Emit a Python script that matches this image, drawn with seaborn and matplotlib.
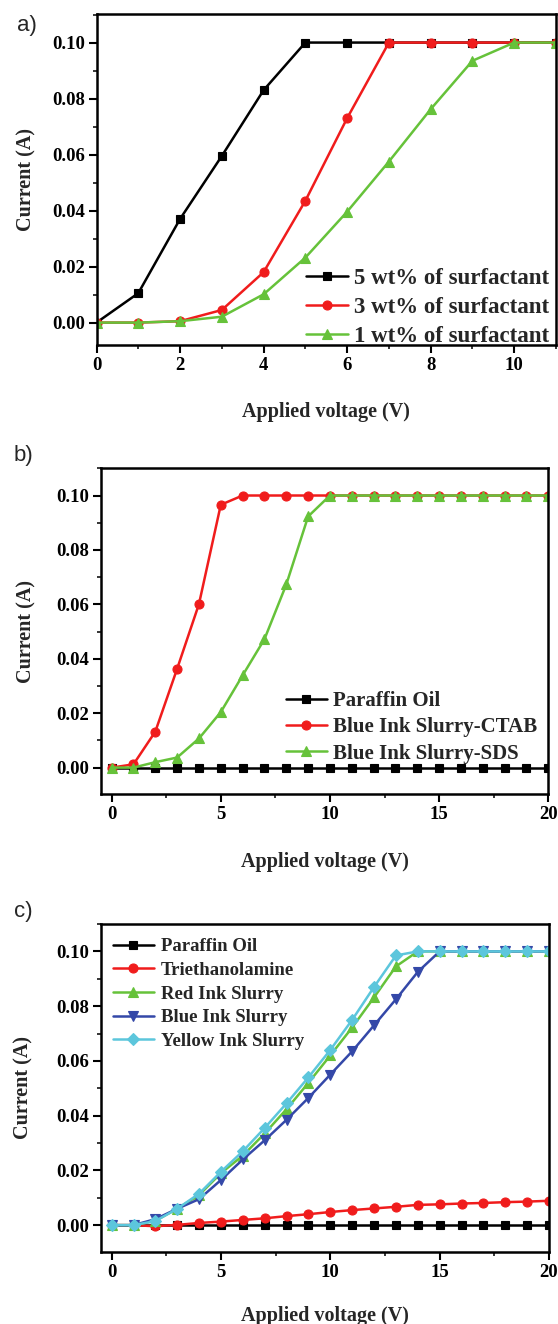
import matplotlib
matplotlib.use("Agg")
import matplotlib.pyplot as plt
from matplotlib.ticker import MultipleLocator, FormatStrFormatter
import seaborn as sns
import pandas as pd

# ---------------- data ----------------
# panel a
a_voltage = [0, 1, 2, 3, 4, 5, 6, 7, 8, 9, 10, 11]
a_5wt = [0.0, 0.0105, 0.037, 0.0595, 0.083, 0.100, 0.100, 0.100, 0.100, 0.100, 0.100, 0.100]
a_3wt = [0.0, 0.0, 0.0005, 0.0045, 0.018, 0.0435, 0.073, 0.100, 0.100, 0.100, 0.100, 0.100]
a_1wt = [0.0, 0.0, 0.0005, 0.0021, 0.0101, 0.0232, 0.0396, 0.0575, 0.0762, 0.0935, 0.100, 0.100]
a_labels = ["5 wt% of surfactant", "3 wt% of surfactant", "1 wt% of surfactant"]

# panel b
b_voltage = [0, 1, 2, 3, 4, 5, 6, 7, 8, 9, 10, 11, 12, 13, 14, 15, 16, 17, 18, 19, 20]
b_paraffin = [0.0, 0.0, 0.0, 0.0, 0.0, 0.0, 0.0, 0.0, 0.0, 0.0, 0.0,
              0.0, 0.0, 0.0, 0.0, 0.0, 0.0, 0.0, 0.0, 0.0, 0.0]
b_ctab = [0.0, 0.0012, 0.0132, 0.0363, 0.0601, 0.0966, 0.100, 0.100, 0.100, 0.100, 0.100,
          0.100, 0.100, 0.100, 0.100, 0.100, 0.100, 0.100, 0.100, 0.100, 0.100]
b_sds = [0.0, 0.0, 0.002, 0.0037, 0.0107, 0.0204, 0.0339, 0.0472, 0.0673, 0.0923, 0.100,
         0.100, 0.100, 0.100, 0.100, 0.100, 0.100, 0.100, 0.100, 0.100, 0.100]
b_labels = ["Paraffin Oil", "Blue Ink Slurry-CTAB", "Blue Ink Slurry-SDS"]

# panel c
c_voltage = [0, 1, 2, 3, 4, 5, 6, 7, 8, 9, 10, 11, 12, 13, 14, 15, 16, 17, 18, 19, 20]
c_paraffin = [0.0, 0.0, 0.0, 0.0, 0.0, 0.0, 0.0, 0.0, 0.0, 0.0, 0.0,
              0.0, 0.0, 0.0, 0.0, 0.0, 0.0, 0.0, 0.0, 0.0, 0.0]
c_triethanolamine = [0.0, 0.0, -0.0004, 0.0001, 0.0008, 0.0013, 0.0019, 0.0025, 0.0033, 0.004, 0.0048,
                     0.0055, 0.0061, 0.0067, 0.0074, 0.0076, 0.0079, 0.0081, 0.0084, 0.0086, 0.0089]
c_red_ink = [0.0, 0.0, 0.0016, 0.006, 0.011, 0.019, 0.0254, 0.0335, 0.0424, 0.052, 0.062,
             0.0722, 0.0832, 0.0945, 0.100, 0.100, 0.100, 0.100, 0.100, 0.100, 0.100]
c_blue_ink = [0.0, 0.0, 0.0022, 0.006, 0.0095, 0.0165, 0.024, 0.031, 0.0385, 0.0465, 0.055,
              0.0635, 0.073, 0.0825, 0.0925, 0.100, 0.100, 0.100, 0.100, 0.100, 0.100]
c_yellow_ink = [0.0, 0.0, 0.0015, 0.006, 0.0115, 0.0195, 0.027, 0.0355, 0.0445, 0.054, 0.064,
                0.075, 0.087, 0.0985, 0.100, 0.100, 0.100, 0.100, 0.100, 0.100, 0.100]
c_labels = ["Paraffin Oil", "Triethanolamine", "Red Ink Slurry", "Blue Ink Slurry", "Yellow Ink Slurry"]

x_label = "Applied voltage (V)"
y_label = "Current (A)"

# ---------------- style ----------------
sns.set_style("ticks")
plt.rcParams["font.family"] = ["Liberation Serif", "DejaVu Serif"]
plt.rcParams["font.weight"] = "bold"

BLACK = "#000000"
RED = "#f01c1c"
GREEN = "#66c23a"
BLUE = "#3448a8"
CYAN = "#5cc6dc"

W, H = 558, 1324
fig = plt.figure(figsize=(W / 100, H / 100), dpi=100)


def axes_px(left, right, top, bottom):
    return fig.add_axes([left / W, 1 - bottom / H, (right - left) / W, (bottom - top) / H])


ax_a = axes_px(96.5, 556, 14, 345)
ax_b = axes_px(100.7, 548.3, 468.3, 794)
ax_c = axes_px(100.7, 549, 924, 1251.7)


def draw(ax, x, series, labels, colors, markers):
    for y, lab, col, mk in zip(series, labels, colors, markers):
        df = pd.DataFrame({"x": x, "y": y})
        sns.lineplot(data=df, x="x", y="y", ax=ax, color=col, marker=mk,
                     markersize=6.5 if mk != "s" else 5.5, markeredgecolor=col,
                     markeredgewidth=0.8, linewidth=1.8, label=lab, legend=False)


draw(ax_a, a_voltage, [a_5wt, a_3wt, a_1wt], a_labels, [BLACK, RED, GREEN], ["s", "o", "^"])
draw(ax_b, b_voltage, [b_paraffin, b_ctab, b_sds], b_labels, [BLACK, RED, GREEN], ["s", "o", "^"])
draw(ax_c, c_voltage, [c_paraffin, c_triethanolamine, c_red_ink, c_blue_ink, c_yellow_ink],
     c_labels, [BLACK, RED, GREEN, BLUE, CYAN], ["s", "o", "^", "v", "D"])

ax_a.set_xlim(0, 11)
ax_a.set_ylim(-0.0080, 0.1102)
ax_a.xaxis.set_major_locator(MultipleLocator(2))
ax_a.xaxis.set_minor_locator(MultipleLocator(1))

for ax in (ax_b, ax_c):
    ax.set_xlim(-0.5, 20)
    ax.set_ylim(-0.0097, 0.1100)
    ax.xaxis.set_major_locator(MultipleLocator(5))
    ax.xaxis.set_minor_locator(MultipleLocator(2.5))

for ax in (ax_a, ax_b, ax_c):
    ax.yaxis.set_major_locator(MultipleLocator(0.02))
    ax.yaxis.set_minor_locator(MultipleLocator(0.01))
    ax.yaxis.set_major_formatter(FormatStrFormatter("%.2f"))
    ax.xaxis.set_major_formatter(FormatStrFormatter("%d"))
    for s in ax.spines.values():
        s.set_linewidth(1.8)
        s.set_color("black")
    ax.tick_params(which="major", direction="out", length=5.5, width=1.5, labelsize=13.5,
                   pad=3, top=False, right=False, colors="black")
    ax.tick_params(which="minor", direction="out", length=3, width=1.3, top=False, right=False)
    for t in ax.get_xticklabels() + ax.get_yticklabels():
        t.set_fontweight("bold")
    ax.set_xlabel(x_label, fontsize=14.5, fontweight="bold")
    ax.set_ylabel(y_label, fontsize=14.5, fontweight="bold")

ax_a.yaxis.set_label_coords(-0.131, 0.5)
ax_b.yaxis.set_label_coords(-0.144, 0.5)
ax_c.yaxis.set_label_coords(-0.149, 0.5)
ax_a.xaxis.set_label_coords(0.5, -0.172)
ax_b.xaxis.set_label_coords(0.5, -0.178)
ax_c.xaxis.set_label_coords(0.5, -0.166)

common = dict(frameon=False, borderpad=0, borderaxespad=0, numpoints=1, loc="upper left")
ax_a.legend(bbox_to_anchor=(0.456, 0.2326), prop={"weight": "bold", "size": 16.5},
            labelspacing=0.35, handlelength=1.85, handletextpad=0.25, **common)
ax_b.legend(bbox_to_anchor=(0.414, 0.316), prop={"weight": "bold", "size": 15},
            labelspacing=0.30, handlelength=1.95, handletextpad=0.3, **common)
ax_c.legend(bbox_to_anchor=(0.027, 0.957), prop={"weight": "bold", "size": 13.5},
            labelspacing=0.35, handlelength=2.2, handletextpad=0.35, **common)

for lab, (px, py) in zip(["a)", "b)", "c)"], [(27, 25), (23, 455), (23, 911.7)]):
    fig.text(px / W, 1 - py / H, lab, ha="center", va="center", fontsize=16,
             fontweight="normal", family=["Liberation Sans", "DejaVu Sans"])

fig.savefig("out.png", dpi=100)
